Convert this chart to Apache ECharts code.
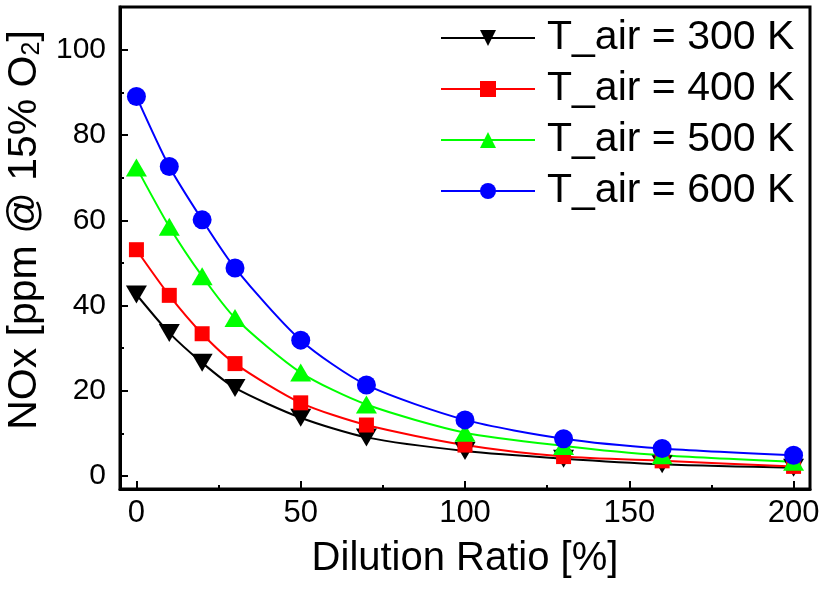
<!DOCTYPE html>
<html>
<head>
<meta charset="utf-8">
<script src="https://cdn.jsdelivr.net/npm/echarts@6/dist/echarts.min.js"></script>
<style>
  html, body { margin: 0; padding: 0; background: #fff; }
  #chart { width: 836px; height: 591px; }
</style>
</head>
<body>
<div id="chart"></div>
<script>
  // dilution ratio [%] on x
  var dilution = [0, 10, 20, 30, 50, 70, 100, 130, 160, 200];
  // NOx [ppm @ 15% O2] per air temperature
  var nox300 = [42.6, 33.6, 26.6, 20.7, 13.7, 9.1, 5.9, 4.1, 2.8, 2.0];
  var nox400 = [53.1, 42.4, 33.4, 26.4, 17.2, 12.0, 7.3, 4.6, 3.6, 2.3];
  var nox500 = [72.4, 58.5, 46.9, 37.1, 24.3, 16.8, 10.2, 7.1, 4.9, 3.4];
  var nox600 = [89.0, 72.6, 60.1, 48.8, 31.9, 21.4, 13.2, 8.8, 6.5, 4.9];
  var seriesNames = ['T_air = 300 K', 'T_air = 400 K', 'T_air = 500 K', 'T_air = 600 K'];

  var font = 'Liberation Sans, Arial, sans-serif';

  function pairs(ys) {
    return dilution.map(function (x, i) { return [x, ys[i]]; });
  }

  function lineSeries(name, ys, color, symbol, size, rotate) {
    return {
      name: name,
      type: 'line',
      data: pairs(ys),
      smooth: 0.25,
      clip: false,
      symbol: symbol,
      symbolSize: size,
      symbolRotate: rotate || 0,
      showAllSymbol: true,
      lineStyle: { color: color, width: 2 },
      itemStyle: { color: color, borderWidth: 0 },
      emphasis: { disabled: true }
    };
  }

  var chart = echarts.init(document.getElementById('chart'));
  var option = {
    backgroundColor: '#fff',
    animation: false,
    grid: {
      left: 120, right: 26, top: 7, bottom: 102,
      show: true, borderColor: '#000', borderWidth: 3,
      containLabel: false, outerBoundsMode: 'none'
    },
    legend: {
      orient: 'vertical',
      left: 435,
      top: 11,
      itemWidth: 94,
      itemHeight: 20,
      itemGap: 7,
      data: seriesNames,
      textStyle: {
        fontFamily: font, fontSize: 41, color: '#000',
        lineHeight: 44, padding: [0, 0, 0, 7]
      }
    },
    xAxis: {
      type: 'value',
      min: -5, max: 205,
      name: 'Dilution Ratio [%]',
      nameLocation: 'middle',
      nameGap: 50,
      nameTextStyle: { fontFamily: font, fontSize: 40, color: '#000' },
      axisLine: { show: true, onZero: false, lineStyle: { color: '#000', width: 3 } },
      axisTick: { show: true, inside: true, length: 8, lineStyle: { color: '#000', width: 2 } },
      minorTick: { show: true, splitNumber: 2, length: 4, lineStyle: { color: '#000', width: 2 } },
      axisLabel: {
        fontFamily: font, fontSize: 31, color: '#000', margin: 9,
        showMinLabel: false, showMaxLabel: false
      },
      splitLine: { show: false },
      minorSplitLine: { show: false }
    },
    yAxis: {
      type: 'value',
      min: -3, max: 110,
      name: 'NOx [ppm @ 15% O{sub|2}]',
      nameLocation: 'middle',
      nameGap: 63,
      nameTextStyle: {
        fontFamily: font, fontSize: 41, color: '#000', lineHeight: 41,
        padding: [0, 0, 0, 36],
        rich: {
          sub: { fontFamily: font, fontSize: 25, color: '#000', verticalAlign: 'bottom', lineHeight: 41 }
        }
      },
      axisLine: { show: true, onZero: false, lineStyle: { color: '#000', width: 3 } },
      axisTick: { show: true, inside: true, length: 8, lineStyle: { color: '#000', width: 2 } },
      minorTick: { show: true, splitNumber: 2, length: 4, lineStyle: { color: '#000', width: 2 } },
      axisLabel: {
        fontFamily: font, fontSize: 30, color: '#000', margin: 14,
        showMinLabel: false, showMaxLabel: false
      },
      splitLine: { show: false },
      minorSplitLine: { show: false }
    },
    series: [
      lineSeries(seriesNames[0], nox300, '#000000', 'triangle', [21, 18], 180),
      lineSeries(seriesNames[1], nox400, '#ff0000', 'rect', 15),
      lineSeries(seriesNames[2], nox500, '#00ff00', 'triangle', [21, 18]),
      lineSeries(seriesNames[3], nox600, '#0000ff', 'circle', 19)
    ]
  };
  chart.setOption(option);
</script>
</body>
</html>
